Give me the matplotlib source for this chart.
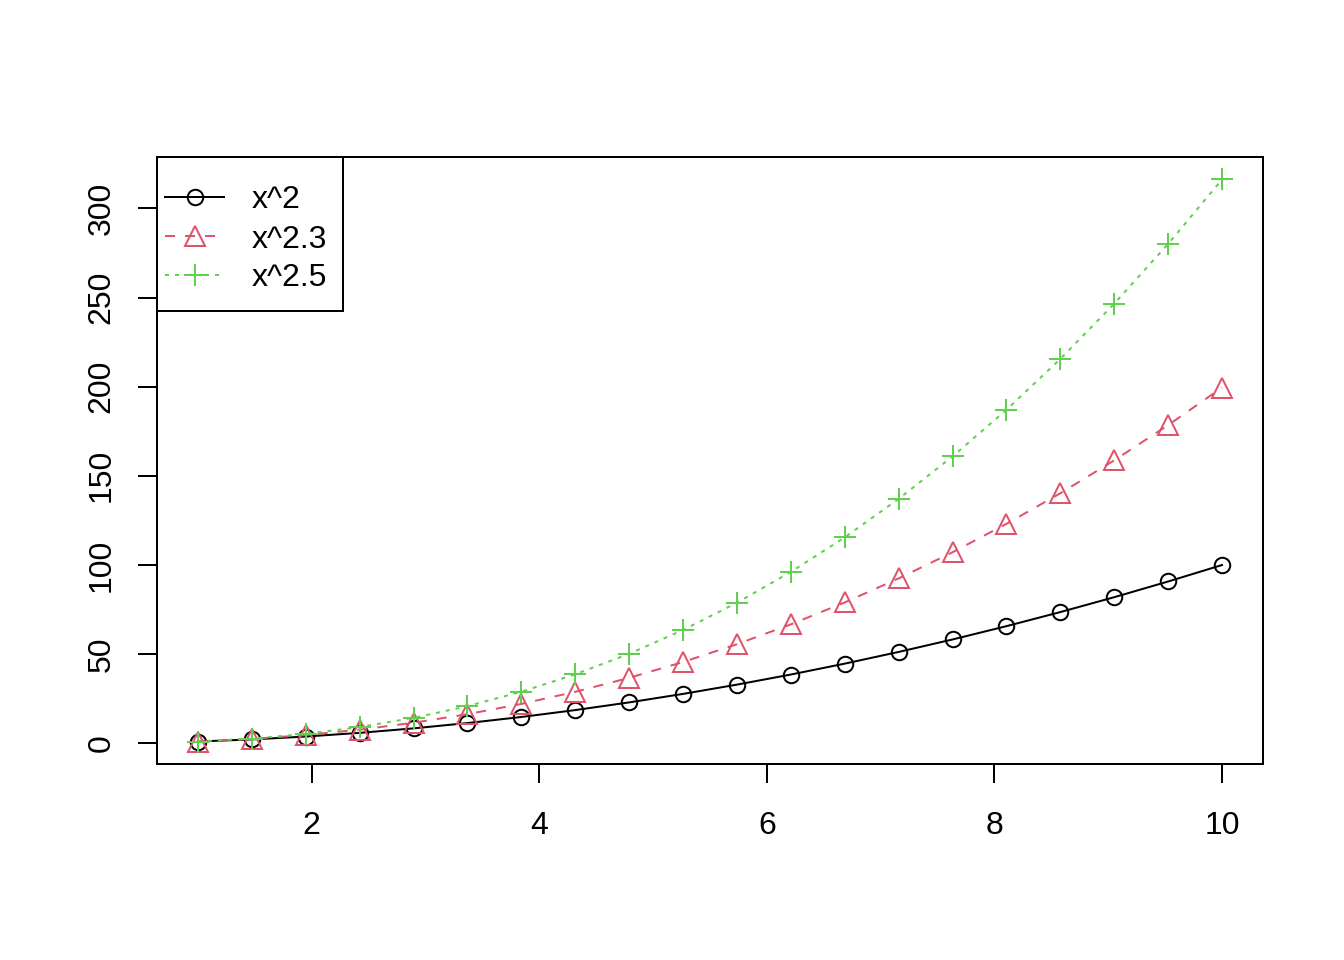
import matplotlib
matplotlib.use("Agg")
import matplotlib.pyplot as plt
from matplotlib.patches import Rectangle

x = [1.0, 1.4737, 1.9474, 2.4211, 2.8947, 3.3684, 3.8421, 4.3158, 4.7895, 5.2632,
     5.7368, 6.2105, 6.6842, 7.1579, 7.6316, 8.1053, 8.5789, 9.0526, 9.5263, 10.0]
y_sq = [1.0, 2.17, 3.79, 5.86, 8.38, 11.35, 14.76, 18.63, 22.94, 27.70,
        32.91, 38.57, 44.68, 51.24, 58.24, 65.70, 73.60, 81.95, 90.75, 100.0]
y_23 = [1.0, 2.44, 4.63, 7.64, 11.53, 16.34, 22.10, 28.89, 36.70, 45.59,
        55.59, 66.71, 79.00, 92.48, 107.15, 123.08, 140.24, 158.70, 178.45, 199.53]
y_25 = [1.0, 2.63, 5.29, 9.12, 14.26, 20.83, 28.93, 38.70, 50.20, 63.55,
        78.83, 96.12, 115.52, 137.09, 160.89, 187.05, 215.58, 246.57, 280.10, 316.23]
labels = ["x^2", "x^2.3", "x^2.5"]
xticks = [2, 4, 6, 8, 10]
yticks = [0, 50, 100, 150, 200, 250, 300]

plt.rcParams['font.family'] = ['Liberation Sans', 'DejaVu Sans']
fig = plt.figure(figsize=(7, 5), dpi=192)
ax = fig.add_axes([157/1344, 1-764/960, (1263-157)/1344, (764-157)/960])

lw = 0.75
styles = [
    dict(color='black', linestyle='-', marker='o', ms=5.8, mfc='none'),
    dict(color='#DF536B', linestyle=(0, (5, 5)), marker='^', ms=7.5, mfc='none'),
    dict(color='#61D04F', linestyle=(0, (2, 3)), marker='+', ms=8.2),
]
series = [y_sq, y_23, y_25]
for ys, st in zip(series, styles):
    ax.plot(x, ys, lw=lw, mew=lw, mec=st['color'], dash_capstyle='butt', **st)

xr = 10 - 1
ax.set_xlim(1 - 0.04 * xr, 10 + 0.04 * xr)
yr = 316.23 - 1.0
ax.set_ylim(1.0 - 0.04 * yr, 316.23 + 0.04 * yr)

ax.set_xticks(xticks)
ax.set_yticks(yticks)
ax.set_xticklabels([str(t) for t in xticks])
ax.set_yticklabels([str(t) for t in yticks], rotation=90, va='center')
ax.tick_params(direction='out', length=7.2, width=lw, labelsize=12)
ax.tick_params(axis='x', pad=10.5)
ax.tick_params(axis='y', pad=8)
for s in ax.spines.values():
    s.set_linewidth(lw)

# legend drawn in axes-fraction coordinates (R-style box legend)
W, H = 1106.0, 607.0
def ax_x(px):
    return (px - 157) / W
def ax_y(py):
    return (764 - py) / H

box = Rectangle((0, ax_y(311)), ax_x(343), 1 - ax_y(311), transform=ax.transAxes,
                facecolor='white', edgecolor='black', lw=lw, zorder=5, clip_on=False)
ax.add_patch(box)
rows = [197, 236, 275]
for lab, st, ry in zip(labels, styles, rows):
    yy = ax_y(ry)
    ax.plot([ax_x(165), ax_x(224)], [yy, yy], transform=ax.transAxes, color=st['color'],
            linestyle=st['linestyle'], lw=lw, dash_capstyle='butt', zorder=6, clip_on=False)
    ax.plot([ax_x(195)], [yy], transform=ax.transAxes, color=st['color'], marker=st['marker'],
            ms=st['ms'], mfc=st.get('mfc', st['color']), mec=st['color'], mew=lw,
            linestyle='none', zorder=7, clip_on=False)
    ax.text(ax_x(252), yy, lab, transform=ax.transAxes, fontsize=12, va='center_baseline',
            ha='left', zorder=7)

fig.savefig("out.png", dpi=192)
